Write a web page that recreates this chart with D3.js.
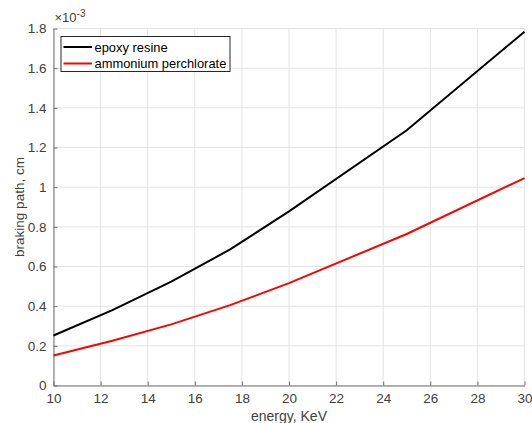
<!DOCTYPE html>
<html>
<head>
<meta charset="utf-8">
<script src="https://cdn.jsdelivr.net/npm/d3@7"></script>
<style>
  body { margin: 0; background: #fff; }
  text { font-family: "Liberation Sans", Arial, sans-serif; }
</style>
</head>
<body>
<svg id="chart" width="532" height="423"></svg>
<script>
// energy values, KeV
const energy = [10, 12.5, 15, 17.5, 20, 25, 30];
// braking path, cm
const epoxyResine = [0.252e-3, 0.380e-3, 0.524e-3, 0.686e-3, 0.878e-3, 1.287e-3, 1.784e-3];
const ammoniumPerchlorate = [0.151e-3, 0.226e-3, 0.308e-3, 0.405e-3, 0.516e-3, 0.764e-3, 1.046e-3];
const xTicks = [10, 12, 14, 16, 18, 20, 22, 24, 26, 28, 30];
const yTicks = [0, 0.2e-3, 0.4e-3, 0.6e-3, 0.8e-3, 1e-3, 1.2e-3, 1.4e-3, 1.6e-3, 1.8e-3];
const seriesNames = ["epoxy resine", "ammonium perchlorate"];
const seriesColors = ["#000000", "#ff0000"];

const margin = { left: 53.5, right: 7.5, top: 28.5, bottom: 37.5 };
const width = 532, height = 423;
const svg = d3.select("#chart");

const x = d3.scaleLinear().domain([10, 30]).range([margin.left, width - margin.right]);
const y = d3.scaleLinear().domain([0, 1.8e-3]).range([height - margin.bottom, margin.top]);

// grid
const grid = svg.append("g").attr("stroke", "#e3e3e3").attr("stroke-width", 1);
grid.selectAll("line.gx")
  .data(xTicks)
  .join("line")
  .attr("x1", d => x(d)).attr("x2", d => x(d))
  .attr("y1", y(0)).attr("y2", y(1.8e-3));
grid.selectAll("line.gy")
  .data(yTicks)
  .join("line")
  .attr("x1", x(10)).attr("x2", x(30))
  .attr("y1", d => y(d)).attr("y2", d => y(d));

// axes
const xAxis = d3.axisBottom(x).tickValues(xTicks).tickSizeInner(-4).tickSizeOuter(0).tickPadding(8)
  .tickFormat(d3.format("d"));
const yAxis = d3.axisLeft(y).tickValues(yTicks).tickSizeInner(-4).tickSizeOuter(0).tickPadding(7)
  .tickFormat(d => d3.format("~g")(+(d * 1e3).toFixed(2)));

const gx = svg.append("g").attr("transform", `translate(0,${y(0)})`).call(xAxis);
const gy = svg.append("g").attr("transform", `translate(${x(10)},0)`).call(yAxis);
[gx, gy].forEach(g => {
  g.select(".domain").attr("stroke", "#707070");
  g.selectAll(".tick line").attr("stroke", "#707070");
  g.selectAll(".tick text")
    .attr("fill", "#404040")
    .style("font-size", "13.5px")
    .style("font-family", "'Liberation Sans', Arial, sans-serif");
});

// exponent label
const expo = svg.append("text")
  .attr("x", x(10) + 1)
  .attr("y", y(1.8e-3) - 7)
  .attr("fill", "#404040")
  .style("font-size", "13px");
expo.append("tspan").text("\u00d710");
expo.append("tspan").attr("dy", -5).style("font-size", "10px").text("-3");

// axis titles
svg.append("text")
  .attr("x", (x(10) + x(30)) / 2)
  .attr("y", 421)
  .attr("text-anchor", "middle")
  .attr("fill", "#404040")
  .style("font-size", "14px")
  .text("energy, KeV");

svg.append("text")
  .attr("transform", `translate(24,${(y(0) + y(1.8e-3)) / 2}) rotate(-90)`)
  .attr("text-anchor", "middle")
  .attr("fill", "#404040")
  .style("font-size", "13.5px")
  .text("braking path, cm");

// lines
const line = d3.line().x(d => x(d[0])).y(d => y(d[1]));
const series = [epoxyResine, ammoniumPerchlorate];
svg.append("g")
  .selectAll("path")
  .data(series)
  .join("path")
  .attr("fill", "none")
  .attr("stroke", (d, i) => seriesColors[i])
  .attr("stroke-width", 2)
  .attr("d", d => line(energy.map((e, i) => [e, d[i]])));

// legend
const legend = svg.append("g").attr("transform", "translate(61,36.5)");
legend.append("rect")
  .attr("width", 169).attr("height", 35)
  .attr("fill", "#fff").attr("stroke", "#262626").attr("stroke-width", 1);
const items = legend.selectAll("g.item")
  .data(seriesNames)
  .join("g")
  .attr("transform", (d, i) => `translate(0,${10.5 + i * 16.5})`);
items.append("line")
  .attr("x1", 2.5).attr("x2", 31)
  .attr("stroke", (d, i) => seriesColors[i])
  .attr("stroke-width", 2);
items.append("text")
  .attr("x", 33.5).attr("y", 4.8)
  .attr("fill", "#000")
  .style("font-size", "12.9px")
  .text(d => d);
</script>
</body>
</html>
